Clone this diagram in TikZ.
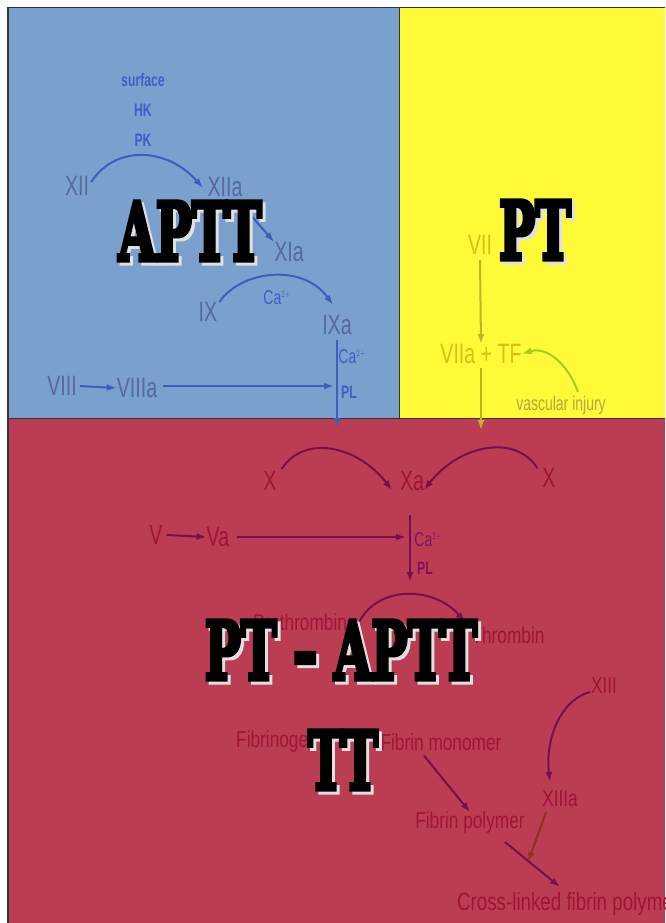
\documentclass[tikz,border=0pt]{standalone}
\usepackage{fontspec}
\setmainfont{Liberation Sans}
\newfontface\bigfont{DejaVu Serif Bold}[FakeBold=6]
\usetikzlibrary{arrows.meta}
\definecolor{blueBG}{RGB}{122,160,206}
\definecolor{yellowBG}{RGB}{255,250,55}
\definecolor{redBG}{RGB}{187,61,84}
\definecolor{blueTxt}{RGB}{88,104,160}
\definecolor{blueLbl}{RGB}{60,95,200}
\definecolor{blueArr}{RGB}{60,95,190}
\definecolor{yelTxt}{RGB}{215,190,20}
\definecolor{yelArr}{RGB}{190,180,40}
\definecolor{greenArr}{RGB}{160,205,30}
\definecolor{vascTxt}{RGB}{175,170,65}
\definecolor{redTxt}{RGB}{160,20,55}
\definecolor{redArr}{RGB}{120,15,75}
\definecolor{brownArr}{RGB}{140,50,30}
\tikzset{
  lab/.style={inner sep=0pt, font=\fontsize{28}{28}\selectfont, xscale=0.7},
  sml/.style={inner sep=0pt, font=\fontsize{20}{20}\selectfont, xscale=0.7},
  smlb/.style={inner sep=0pt, font=\bfseries\fontsize{18}{18}\selectfont, xscale=0.68},
  mid/.style={inner sep=0pt, font=\fontsize{23}{23}\selectfont, xscale=0.75},
  arr/.style={line width=2pt, -{Latex[length=10pt,width=7pt]}},
  big/.style={inner sep=0pt, font=\bigfont\fontsize{80}{80}\selectfont, xscale=0.6},
  bigshadow/.style={big, text=black!12}
}
\begin{document}
\begin{tikzpicture}[x=1pt,y=-1pt]
\useasboundingbox (0,0) rectangle (665,923);
\fill[white] (0,0) rectangle (665,923);
% backgrounds
\fill[blueBG] (8,8) rectangle (399,418);
\fill[yellowBG] (399,8) rectangle (665,418);
\fill[redBG] (8,418) rectangle (665,923);
\draw[black!80, line width=1.2pt] (8,923) -- (8,7.5) -- (665,7.5);
\draw[black!80, line width=1pt] (8,418) -- (665,418);
\draw[black!80, line width=1pt] (399,8) -- (399,418);

% ---------- APTT (blue) ----------
\begin{scope}[text=blueLbl]
\node[smlb] (surface) at (143,80) {surface};
\node[smlb] (HK) at (143,110) {HK};
\node[smlb] (PK) at (143,140) {PK};
\node[sml] (ca1) at (277,298) {Ca$^{\scriptscriptstyle 2+}$};
\node[sml] (ca2) at (352,357) {Ca$^{\scriptscriptstyle 2+}$};
\node[smlb] (PL1) at (349,392) {PL};
\end{scope}
\begin{scope}[text=blueTxt]
\node[lab] (XII) at (77,186) {XII};
\node[lab] (XIIa) at (225,187) {XIIa};
\node[lab] (XIa) at (289,252) {XIa};
\node[lab] (IX) at (208,312) {IX};
\node[lab] (IXa) at (337,325) {IXa};
\node[lab] (VIII) at (62,386) {VIII};
\node[lab] (VIIIa) at (137,388) {VIIIa};
\end{scope}
\coordinate (bdown) at (337,428);
\coordinate (bjoin) at (334,386);
\begin{scope}[draw=blueArr]
\draw[arr] (XII.east) ++(2,-4) .. controls +(25,-38) and +(-35,-40) .. (203,188);
\draw[arr] (XIIa.south east) ++(-5,3) -- (XIa.north west);
\draw[arr] (IX.east) ++(2,-10) .. controls +(22,-32) and +(-30,-42) .. (333,305);
\draw[arr] (IXa.south) ++(0,5) -- (bdown);
\draw[arr] (VIII.east) ++(3,0) -- (VIIIa.west);
\draw[arr] (VIIIa.east) ++(6,-2) -- (bjoin);
\end{scope}
\node[bigshadow] (aptts) at (193,234) {APTT};
\node[big] (aptt) at (190,231) {APTT};

% ---------- PT (yellow) ----------
\node[lab, text=yelTxt] (VII) at (480,245) {VII};
\node[lab, text=yelTxt] (VIIa) at (481,354) {VIIa + TF};
\node[sml, text=vascTxt] (vasc) at (561,405) {vascular injury};
\coordinate (ydown) at (481,430);
\coordinate (gstart) at (578,392);
\draw[arr, draw=yelArr] (VII.south) ++(0,5) -- (VIIa.north);
\draw[arr, draw=yelArr] (VIIa.south) ++(0,4) -- (ydown);
\draw[arr, draw=greenArr] (gstart) .. controls +(-10,-28) and +(25,-8) .. (VIIa.east);
\node[bigshadow] (pts) at (538,233) {PT};
\node[big] (pt) at (535,230) {PT};

% ---------- common (red) ----------
\begin{scope}[text=redTxt]
\node[lab] (XL) at (270,481) {X};
\node[lab] (Xa) at (412,481) {Xa};
\node[lab] (XR) at (549,478) {X};
\node[lab] (V) at (156,535) {V};
\node[lab] (Va) at (218,537) {Va};
\node[mid] (Proth) at (300,622) {Prothrombin};
\node[mid] (Thromb) at (508,635) {Thrombin};
\node[mid] (XIII) at (604,686) {XIII};
\node[mid] (XIIIa) at (560,799) {XIIIa};
\node[mid] (Fibg) at (277,742) {Fibrinogen};
\node[mid] (Fibm) at (441,742) {Fibrin monomer};
\node[mid] (Fibp) at (470,823) {Fibrin polymer};
\node[mid, anchor=west, font=\fontsize{25}{25}\selectfont] (Cross) at (457,904) {Cross-linked fibrin polymer};
\end{scope}
\node[sml, text=redTxt!80!blue] (ca3) at (428,540) {Ca$^{\scriptscriptstyle 2+}$};
\node[smlb, text=redTxt!80!blue] (PL2) at (425,568) {PL};
\coordinate (rdown) at (410,582);
\coordinate (rjoin) at (406,537);
\coordinate (xlink) at (528,862);
\coordinate (xiiiend) at (550,782);
\coordinate (xiiistart) at (590,692);
\coordinate (polystart) at (505,842);
\coordinate (crossend) at (560,887);
\begin{scope}[draw=redArr]
\draw[arr] (XL.north east) ++(5,-2) .. controls +(22,-35) and +(-35,-45) .. (392,490);
\draw[arr] (XR.north west) ++(-5,0) .. controls +(-22,-35) and +(35,-45) .. (424,490);
\draw[arr] (Xa.south) ++(-2,24) -- (rdown);
\draw[arr] (V.east) ++(4,0) -- (Va.west);
\draw[arr] (Va.east) ++(8,0) -- (rjoin);
\draw[arr] (Proth.east) ++(12,0) .. controls +(20,-38) and +(-30,-35) .. (465,622);
\draw[arr] (xiiistart) .. controls (560,700) and (545,740) .. (xiiiend);
\draw[arr] (Fibm.south) ++(-17,5) -- (Fibp.north);
\draw[arr] (polystart) -- (crossend);
\end{scope}
\draw[arr, draw=brownArr] (XIIIa.south) ++(-14,5) -- (xlink);
\node[bigshadow] (ptaptts) at (344,653) {PT – APTT};
\node[big] (ptaptt) at (341,650) {PT – APTT};
\node[bigshadow] (tts) at (346,763) {TT};
\node[big] (tt) at (343,760) {TT};
\end{tikzpicture}
\end{document}
